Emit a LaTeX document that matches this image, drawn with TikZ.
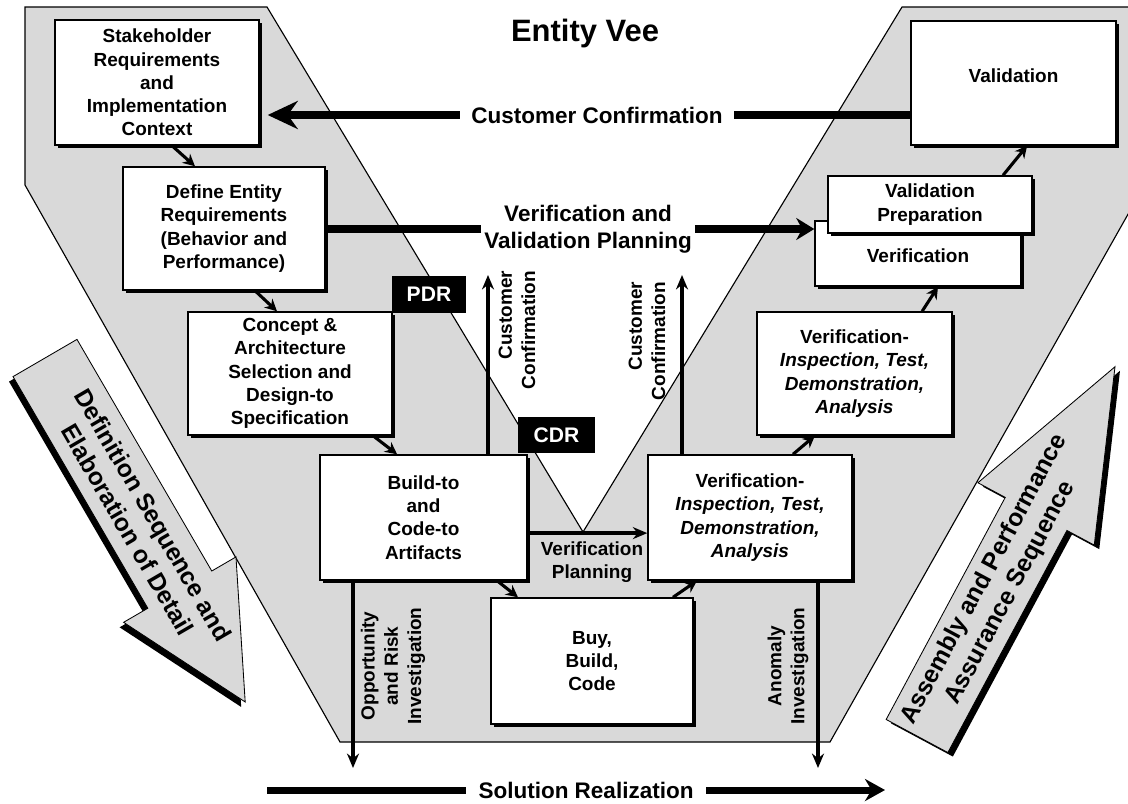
\documentclass[tikz,border=0pt]{standalone}
\usepackage{fontspec}
\setmainfont{Liberation Sans}
\usetikzlibrary{arrows.meta,shadows}
\definecolor{veegray}{RGB}{217,217,217}
\tikzset{
  veebox/.style={draw, line width=1pt, fill=white, align=center, inner sep=1pt,
    font=\fontsize{13.5}{16.5}\selectfont\bfseries,
    drop shadow={shadow xshift=2.4pt, shadow yshift=-2.4pt, opacity=1, fill=black}},
  review/.style={fill=black, text=white, inner sep=0pt, font=\fontsize{15}{18}\selectfont\bfseries},
  flowtext/.style={align=center, inner sep=2pt, font=\fontsize{16}{19}\selectfont\bfseries},
  sidetext/.style={align=center, rotate=90, inner sep=0pt, font=\fontsize{13.5}{16.5}\selectfont\bfseries},
  arrowtext/.style={align=center, inner sep=0pt, font=\fontsize{17.5}{21}\selectfont\bfseries},
  bigflow/.style={line width=5pt},
  thinflow/.style={-{Stealth[length=0.36cm,width=0.3cm]}, line width=2.5pt},
  linkarrow/.style={-{Stealth[length=0.3cm,width=0.3cm]}, line width=2.2pt},
  bigarrow/.style={fill=veegray, draw=black, line width=0.6pt}
}
\begin{document}
\begin{tikzpicture}[x=0.025cm, y=-0.025cm]
\useasboundingbox (0,0) rectangle (1128,803);
% Vee background
\begin{scope}
\clip (0,0) rectangle (1128,803);
\filldraw[fill=veegray, draw=black, line width=0.8pt] (25,7) -- (267,7) -- (583,532) -- (902,7) -- (1245,7) -- (830,742) -- (340,742) -- (25,185) -- cycle;
\end{scope}

% Side arrows
\begin{scope}[shift={(41,363)}, rotate=-59.8]
\fill[black] (0,-37) -- (268,-37) -- (268,-65) -- (398,0) -- (268,65) -- (268,37) -- (0,37) -- cycle;
\end{scope}
\begin{scope}[shift={(45,358)}, rotate=-59.8]
\filldraw[bigarrow] (0,-37) -- (268,-37) -- (268,-65) -- (398,0) -- (268,65) -- (268,37) -- (0,37) -- cycle;
\node[arrowtext, rotate=-59.8] (defseq) at (190,0) {Definition Sequence and\\Elaboration of Detail};
\end{scope}
\begin{scope}[shift={(922,740)}, rotate=61.8]
\fill[black] (0,-35) -- (252,-35) -- (252,-66) -- (419,0) -- (252,66) -- (252,35) -- (0,35) -- cycle;
\end{scope}
\begin{scope}[shift={(917,736)}, rotate=61.8]
\filldraw[bigarrow] (0,-35) -- (252,-35) -- (252,-66) -- (419,0) -- (252,66) -- (252,35) -- (0,35) -- cycle;
\node[arrowtext, rotate=61.8] (assyseq) at (170,0) {Assembly and Performance\\Assurance Sequence};
\end{scope}

% Title
\node[font=\fontsize{22}{26}\selectfont\bfseries] (title) at (585,33) {Entity Vee};

% Left side boxes
\node[veebox, minimum width=5.1cm, minimum height=3.125cm] (stake) at (157,82.5) {Stakeholder\\Requirements\\and\\Implementation\\Context};
\node[veebox, minimum width=5.05cm, minimum height=3.075cm] (define) at (224,228.5) {Define Entity\\Requirements\\(Behavior and\\Performance)};
\node[veebox, minimum width=5.1cm, minimum height=3.075cm] (concept) at (290,373.5) {Concept \&\\Architecture\\Selection and\\Design-to\\Specification};
\node[veebox, minimum width=5.175cm, minimum height=3.125cm] (build) at (423.5,517.5) {Build-to\\and\\Code-to\\Artifacts};
\node[veebox, minimum width=5.05cm, minimum height=3.15cm] (buy) at (592,661) {Buy,\\Build,\\Code};

% Right side boxes
\node[veebox, minimum width=5.1cm, minimum height=3.125cm] (verifmid) at (750,517.5) {Verification-\\\textit{Inspection, Test,}\\\textit{Demonstration,}\\\textit{Analysis}};
\node[veebox, minimum width=4.875cm, minimum height=3.075cm] (verifup) at (854.5,373.5) {Verification-\\\textit{Inspection, Test,}\\\textit{Demonstration,}\\\textit{Analysis}};
\node[veebox, minimum width=5.15cm, minimum height=1.625cm] (verif) at (918,253.5) {\raisebox{-3pt}[0.7em][0.2em]{Verification}};
\node[veebox, minimum width=5.1cm, minimum height=1.425cm] (valprep) at (930,204.5) {Validation\\Preparation};
\node[veebox, minimum width=5.125cm, minimum height=3.1cm] (valid) at (1013.5,83) {\raisebox{4pt}[0.7em][0.2em]{Validation}};

% Reviews
\node[review, minimum width=1.85cm, minimum height=0.925cm] (pdr) at (429,294.5) {PDR};
\node[review, minimum width=1.925cm, minimum height=0.9cm] (cdr) at (556.5,435) {CDR};

% Box to box arrows
\draw[linkarrow] ([xshift=0.375cm]stake.south) -- ([xshift=-0.725cm]define.north);
\draw[linkarrow] ([xshift=0.775cm]define.south) -- ([xshift=-0.325cm]concept.north);
\draw[linkarrow] ([xshift=2.075cm]concept.south) -- ([xshift=-0.66cm]build.north);
\draw[linkarrow] ([xshift=1.84cm]build.south) -- ([xshift=-1.85cm]buy.north);
\draw[linkarrow] ([xshift=2.025cm]buy.north) -- ([xshift=-1.325cm]verifmid.south);
\draw[linkarrow] ([xshift=1.075cm]verifmid.north) -- ([xshift=-0.99cm]verifup.south);
\draw[linkarrow] ([xshift=1.69cm]verifup.north) -- ([xshift=0.5cm]verif.south);
\draw[linkarrow] ([xshift=1.825cm]valprep.north) -- ([xshift=0.34cm]valid.south);

% Main flows
\node[flowtext, inner xsep=8pt] (custconf) at (597,115) {Customer Confirmation};
\draw[bigflow, -{Stealth[length=0.75cm,width=0.7cm,inset=0.25cm]}, shorten >=0.2cm] (custconf.west) -- (custconf.west -| stake.east);
\draw[bigflow] (custconf.east) -- (custconf.east -| valid.west);

\node[flowtext] (vvplan) at (588,229) {Verification and\\Validation Planning};
\draw[bigflow] (vvplan.west) -- (vvplan.west -| define.east);
\draw[bigflow, -{Stealth[length=0.45cm,width=0.55cm]}] (vvplan.east) -- (vvplan.east -| verif.west);

\node[flowtext, inner xsep=9pt] (solreal) at (586,790) {Solution Realization};
\coordinate (srstart) at (267,790);
\coordinate (srend) at (885,790);
\draw[bigflow] (srstart) -- (solreal.west);
\draw[bigflow, -{Stealth[length=0.5cm,width=0.55cm]}] (solreal.east) -- (srend);

% Confirmations and investigations
\coordinate (ccleft) at (488,275);
\coordinate (ccright) at (682,275);
\coordinate (oppend) at (353,768);
\coordinate (anomend) at (818,768);
\draw[thinflow] (build.north -| ccleft) -- (ccleft);
\draw[thinflow] (verifmid.north -| ccright) -- (ccright);
\draw[thinflow] (build.south -| oppend) -- (oppend);
\draw[thinflow] (verifmid.south -| anomend) -- (anomend);
\draw[thinflow, line width=3pt] ([yshift=-0.39cm]build.east) -- ([yshift=-0.39cm]verifmid.west);

\node[sidetext, align=right] (cclefttext) at (517,330) {Customer\\Confirmation};
\node[sidetext, align=right] (ccrighttext) at (647,341) {Customer\\Confirmation};
\node[sidetext] (opptext) at (393,666) {Opportunity\\and Risk\\Investigation};
\node[sidetext] (anomtext) at (788,666) {Anomaly\\Investigation};
\node[align=center, inner sep=0pt, font=\fontsize{13.5}{16.5}\selectfont\bfseries] (verplan) at (592,562) {Verification\\Planning};
\end{tikzpicture}
\end{document}
